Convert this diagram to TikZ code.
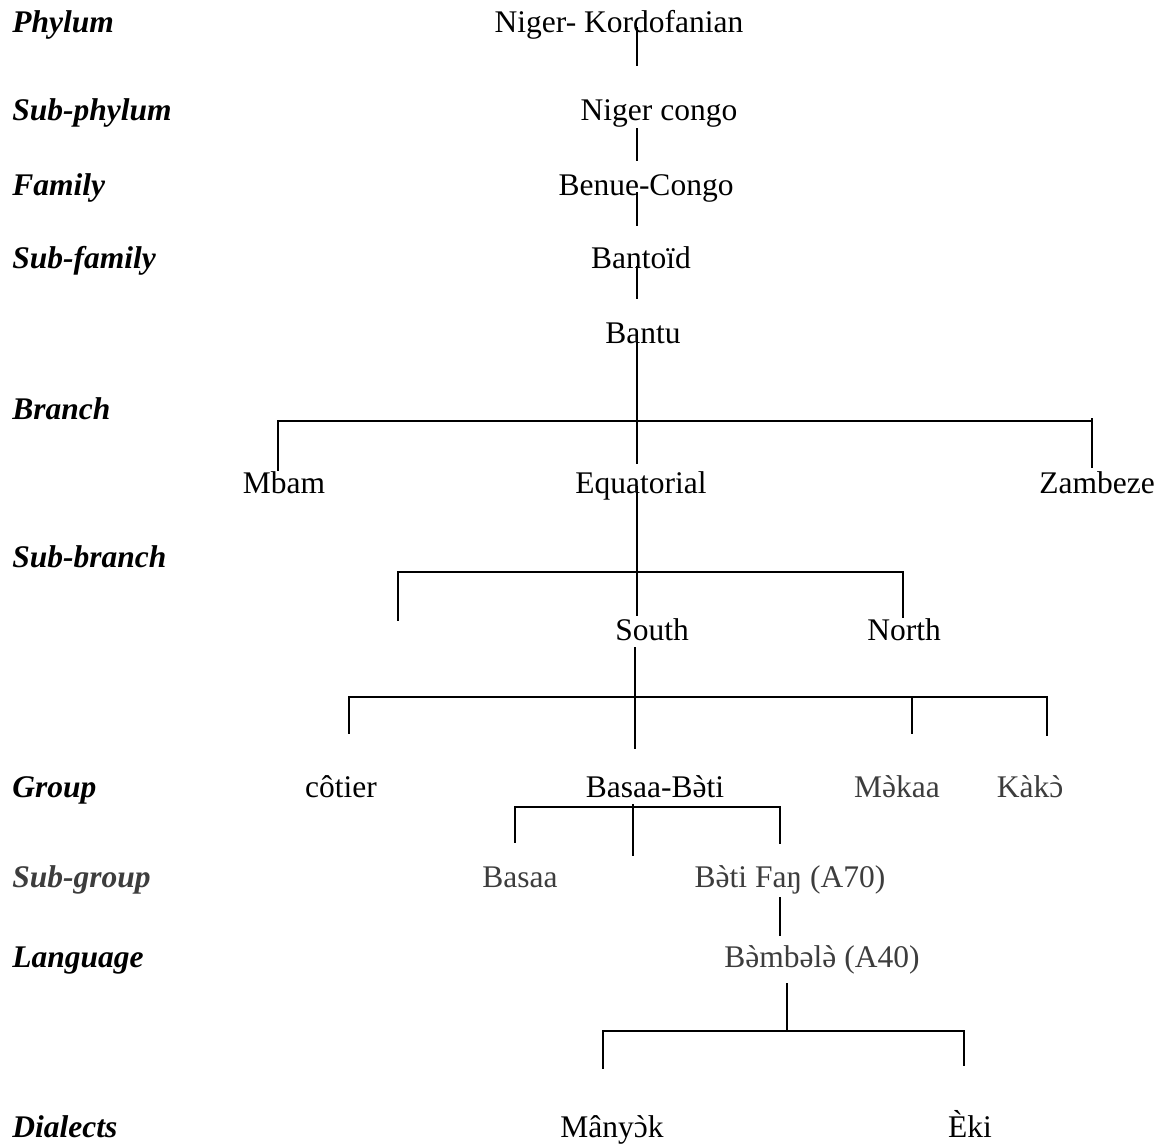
\documentclass[tikz,border=0pt]{standalone}
\usepackage{fontspec}
\setmainfont{Liberation Serif}[Ligatures=TeXOff]
\usepackage{tikz}
\usetikzlibrary{positioning}
\usepackage{xcolor}
\definecolor{inkgray}{HTML}{3D3D3D}
\newcommand{\gv}[1]{{\accent"0060 #1}}
\tikzset{
  rank/.style={anchor=base west, inner sep=0pt,
    font=\fontsize{15.75}{19}\selectfont\bfseries\itshape},
  taxon/.style={anchor=base, inner sep=0pt,
    font=\fontsize{15.75}{19}\selectfont},
  link/.style={line width=0.8pt, line cap=rect},
}

\begin{document}
\begin{tikzpicture}[x=0.5pt, y=-0.5pt]
\useasboundingbox (0,0) rectangle (1159,1145);

% Rank labels
\node[rank] (lphy) at (12,33) {Phylum};
\node[rank] (lsphy) at (12,120) {Sub-phylum};
\node[rank] (lfam) at (12,195) {Family};
\node[rank] (lsfam) at (12,268) {Sub-family};
\node[rank] (lbr) at (12,419) {Branch};
\node[rank] (lsbr) at (12,567) {Sub-branch};
\node[rank] (lgrp) at (12,797) {Group};
\node[rank, inkgray] (lsgrp) at (12,887) {Sub-group};
\node[rank] (llang) at (12,967) {Language};
\node[rank] (ldial) at (12,1137) {Dialects};

% Upper levels
\node[taxon] (nk) at (619,33) {Niger- Kordofanian};
\node[taxon] (nc) at (659,120) {Niger congo};
\node[taxon] (bc) at (646,195) {Benue-Congo};
\node[taxon] (btd) at (641,268) {Bantoïd};
\node[taxon] (bnt) at (643,343) {Bantu};

% Branches
\node[taxon] (mbam) at (284,493) {Mbam};
\node[taxon] (equ) at (641,493) {Equatorial};
\node[taxon] (zmb) at (1097,493) {Zambeze};
\node[taxon] (south) at (652,640) {South};
\node[taxon] (north) at (904,640) {North};

% Groups
\node[taxon] (cot) at (341,797) {côtier};
\node[taxon] (bb) at (655,797) {Basaa-B\gv{ə}ti};
\node[taxon, inkgray] (mak) at (897,797) {M\gv{ə}kaa};
\node[taxon, inkgray] (kak) at (1030,797) {Kàk\gv{ɔ}};
\node[taxon, inkgray] (bas) at (520,887) {Basaa};
\node[taxon, inkgray] (bfa) at (790,887) {B\gv{ə}ti Faŋ (A70)};
\node[taxon, inkgray] (bmb) at (822,967) {B\gv{ə}mbəl\gv{ə} (A40)};
\node[taxon] (many) at (612,1137) {Mâny\gv{ɔ}k};
\node[taxon] (eki) at (970,1137) {Èki};

% Junctions
\coordinate (spine) at (637,0);
\coordinate (brJ) at (637,421);
\coordinate (brL) at (278,421);
\coordinate (brR) at (1092,421);
\coordinate (sbJ) at (637,572);
\coordinate (sbL) at (398,572);
\coordinate (sbR) at (903,572);
\coordinate (gJ) at (635,697);
\coordinate (gL) at (349,697);
\coordinate (gM) at (912,697);
\coordinate (gR) at (1047,697);
\coordinate (sgJ) at (633,807);
\coordinate (sgL) at (515,807);
\coordinate (sgR) at (780,807);
\coordinate (dJ) at (787,1031);
\coordinate (dL) at (603,1031);
\coordinate (dR) at (964,1031);

% Spine
\draw[link] (nk.base -| spine) ++(0,-5) -- ++(0,37);
\draw[link] (nc.base -| spine) ++(0,9) -- ++(0,31);
\draw[link] (bc.base -| spine) ++(0,-2) -- ++(0,32);
\draw[link] (btd.base -| spine) ++(0,-1) -- ++(0,31);
\draw[link] (bnt.base -| spine) ++(0,-1) -- (brJ) -- ++(0,42);

% Branch bar
\draw[link] (brL) -- (brR);
\draw[link] (brL) -- ++(0,49);
\draw[link] (brR) ++(0,-2) -- ++(0,48);

% Sub-branch bar
\draw[link] (equ.base -| sbJ) ++(0,-6) -- (sbJ) -- ++(0,43);
\draw[link] (sbL) -- (sbR);
\draw[link] (sbL) -- ++(0,48);
\draw[link] (sbR) -- ++(0,45);

% Group bar
\draw[link] (south.base -| gJ) ++(0,8) -- (gJ) -- ++(0,51);
\draw[link] (gL) -- (gR);
\draw[link] (gL) -- ++(0,36);
\draw[link] (gM) -- ++(0,36);
\draw[link] (gR) -- ++(0,38);

% Sub-group bar
\draw[link] (bb.base -| sgJ) ++(0,8) -- ++(0,50);
\draw[link] (sgL) -- (sgR);
\draw[link] (sgL) -- ++(0,35);
\draw[link] (sgR) -- ++(0,36);
\draw[link] (bfa.base -| sgR) ++(0,11) -- ++(0,37);

% Dialects bar
\draw[link] (bmb.base -| dJ) ++(0,17) -- (dJ);
\draw[link] (dL) -- (dR);
\draw[link] (dL) -- ++(0,37);
\draw[link] (dR) -- ++(0,34);

\end{tikzpicture}
\end{document}
